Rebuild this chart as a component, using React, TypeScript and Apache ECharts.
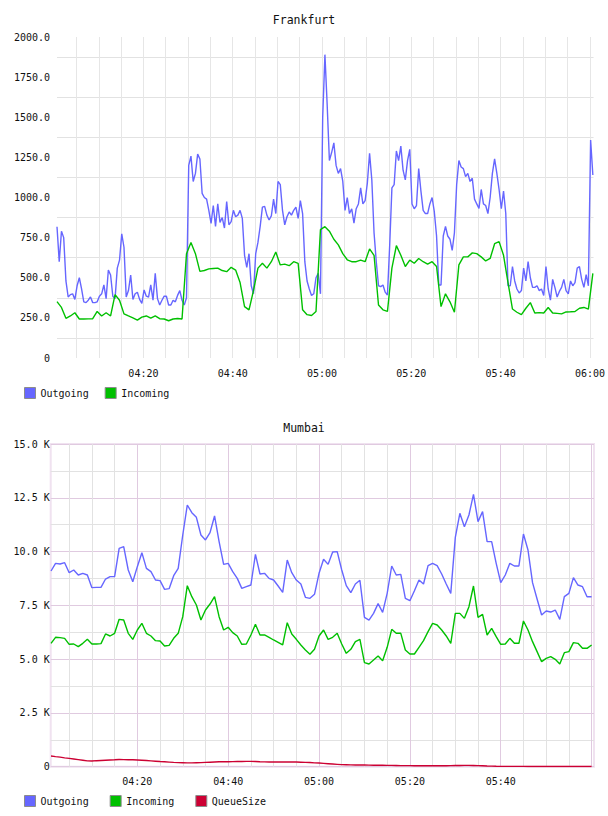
import React, { useEffect, useRef } from "react";
import * as echarts from "echarts";

// Frankfurt: minutes after 04:00 for the first sample, outgoing every 30 s, incoming every minute
const FRA_START = 0.65;
const FRA_OUT_STEP = 0.5;
const FRA_IN_STEP = 1;

const FRA_OUTGOING = [
  818, 600, 790, 750, 480, 380, 395, 400, 365, 450,
  500, 430, 350, 345, 360, 380, 345, 345, 350, 385,
  400, 455, 370, 548, 517, 385, 370, 560, 610, 773,
  690, 380, 420, 517, 365, 400, 410, 365, 340, 424,
  385, 380, 455, 360, 527, 370, 330, 360, 385, 385,
  330, 330, 360, 350, 390, 420, 360, 330, 375, 1200,
  1258, 1100, 1150, 1270, 1240, 1026, 1000, 990, 920, 839,
  950, 820, 960, 845, 875, 810, 975, 830, 850, 920,
  880, 890, 920, 870, 640, 565, 650, 450, 400, 650,
  720, 820, 940, 945, 890, 860, 885, 990, 900, 1100,
  1080, 920, 830, 880, 910, 890, 920, 940, 870, 980,
  900, 600, 480, 430, 390, 400, 500, 527, 400, 1500,
  1890, 1580, 1230, 1280, 1340, 1200, 1150, 1180, 1100, 920,
  1000, 900, 930, 840, 930, 960, 1060, 960, 980, 1090,
  1275, 1110, 780, 600, 450, 445, 455, 410, 392, 700,
  1060, 1080, 1290, 1230, 1320, 1170, 1110, 1230, 1300, 960,
  930, 950, 1180, 1040, 920, 900, 900, 960, 1000, 910,
  760, 455, 455, 760, 820, 760, 740, 670, 780, 1080,
  1230, 1190, 1180, 1130, 1150, 1100, 1120, 990, 960, 932,
  1050, 960, 950, 900, 1000, 1150, 1240, 1150, 1050, 930,
  1040, 900, 450, 450, 570, 480, 430, 405, 420, 560,
  480, 600, 500, 440, 440, 450, 420, 430, 390, 570,
  430, 360, 490, 440, 380, 415, 440, 490, 420, 400,
  480, 450, 470, 560, 570, 490, 440, 520, 450, 1358,
  1140,
];

const FRA_INCOMING = [
  351, 315, 247, 262, 282, 243, 243, 244, 245, 290,
  262, 282, 262, 395, 360, 275, 262, 250, 236, 255,
  262, 248, 262, 245, 243, 232, 243, 246, 243, 650,
  720, 650, 540, 545, 555, 558, 560, 545, 538, 565,
  548, 470, 320, 300, 420, 560, 590, 560, 600, 660,
  580, 585, 575, 600, 590, 300, 270, 265, 290, 800,
  818, 790, 740, 705, 650, 612, 600, 600, 610, 600,
  680, 640, 330, 300, 290, 560, 700, 640, 570, 610,
  590, 620, 600, 585, 600, 570, 320, 400, 350, 285,
  580, 630, 630, 655, 650, 630, 605, 620, 712, 725,
  640, 470, 305, 285, 270, 310, 345, 280, 283, 280,
  315, 280, 278, 275, 287, 288, 290, 310, 315, 305,
  527,
];

// Mumbai: one sample per minute starting at 04:01
const MUM_START = 1;
const MUM_STEP = 1;

const MUM_OUTGOING = [
  9097, 9453, 9422, 9484, 9019, 9143, 8910, 8988, 8910, 8322,
  8337, 8337, 8724, 8833, 8833, 10150, 10228, 9143, 8600, 9298,
  9949, 9220, 9066, 8678, 8647, 8244, 8275, 8880, 9220, 10770,
  12165, 11809, 11592, 10770, 10538, 10879, 11654, 10460, 9406, 9453,
  9066, 8755, 8290, 8368, 8445, 9872, 8957, 8988, 8755, 8678,
  8399, 8105, 9608, 9019, 8678, 8492, 7872, 7826, 8012, 8988,
  9639, 9406, 9980, 9996, 9143, 8415, 8089, 8492, 8663, 6942,
  6818, 7128, 7578, 7175, 8058, 9329, 8910, 8942, 7826, 7717,
  8182, 8678, 8492, 9345, 9453, 9345, 8957, 8492, 8058, 10662,
  11778, 11158, 11700, 12661, 11390, 11855, 10460, 10460, 9453, 8554,
  8910, 9453, 9329, 9329, 10817, 10073, 8554, 7795, 7050, 7237,
  7190, 7283, 6849, 7903, 8058, 8787, 8445, 8368, 7903, 7903,
];

const MUM_INCOMING = [
  5735, 6014, 5998, 5967, 5689, 5704, 5580, 5735, 5921, 5704,
  5704, 5720, 6169, 6076, 6200, 6850, 6820, 6200, 5921, 6355,
  6665, 6200, 6076, 5859, 5843, 5611, 5642, 5967, 6200, 6973,
  8415, 7903, 7515, 6818, 7283, 7562, 7903, 6973, 6355, 6479,
  6231, 6076, 5689, 5704, 6122, 6619, 6122, 6122, 6014, 5890,
  5782, 5658, 6696, 6169, 5921, 5658, 5425, 5224, 5456, 6076,
  6355, 5921, 6014, 6200, 5704, 5270, 5456, 5813, 5921, 4836,
  4774, 4960, 5146, 4929, 5549, 6386, 6200, 6200, 5425, 5239,
  5239, 5549, 5859, 6277, 6665, 6588, 6355, 6076, 5735, 7128,
  7128, 6895, 7438, 8399, 6942, 7082, 6122, 6432, 6045, 5689,
  5704, 5967, 5735, 5735, 6773, 6355, 5813, 5348, 4882, 5037,
  5115, 4991, 4774, 5301, 5348, 5766, 5735, 5503, 5503, 5658,
];

const MUM_QUEUE = [
  496, 470, 445, 410, 385, 360, 330, 300, 270, 265,
  280, 290, 300, 310, 320, 335, 330, 325, 320, 310,
  300, 285, 270, 255, 240, 230, 215, 200, 190, 185,
  180, 180, 185, 190, 200, 210, 220, 230, 230, 232,
  235, 240, 245, 248, 248, 240, 232, 225, 220, 217,
  215, 215, 218, 220, 215, 210, 202, 195, 180, 170,
  155, 140, 125, 110, 95, 90, 85, 82, 80, 78,
  75, 70, 66, 64, 62, 60, 56, 52, 50, 48,
  47, 47, 46, 46, 45, 45, 46, 47, 50, 55,
  58, 62, 62, 58, 52, 42, 32, 25, 20, 16,
  15, 14, 14, 13, 13, 12, 12, 11, 11, 10,
  10, 10, 9, 9, 9, 8, 8, 8, 8, 8,
];

// Axis ticks (minutes after 04:00)
const MINOR_TICKS = [5, 10, 15, 20, 25, 30, 35, 40, 45, 50, 55, 60, 65, 70, 75, 80, 85, 90, 95, 100, 105, 110, 115, 120];
const FRA_TIME_LABELS = [20, 40, 60, 80, 100, 120];
const MUM_TIME_LABELS = [20, 40, 60, 80, 100];

const SERIES_NAMES = ["Outgoing", "Incoming", "QueueSize"];
const COLORS = ["#6666ff", "#00c000", "#cc0033"];

const MONO = "DejaVu Sans Mono";

const toPairs = (values: number[], start: number, step: number) =>
  values.map((v, i) => [start + i * step, v]);

const clock = (m: number) => {
  const total = 4 * 60 + Math.round(m);
  const h = Math.floor(total / 60);
  const mm = total % 60;
  return `${String(h).padStart(2, "0")}:${String(mm).padStart(2, "0")}`;
};

export default function App() {
  const ref = useRef<HTMLDivElement>(null);

  useEffect(() => {
    if (!ref.current) return;
    const chart = echarts.init(ref.current, null, { renderer: "svg" });

    const labelStyle = { fontFamily: MONO, fontSize: 10, color: "#111" };
    const lineSeries = (name: string, color: string, data: number[][], idx: number) => ({
      name,
      type: "line",
      xAxisIndex: idx,
      yAxisIndex: idx,
      data,
      showSymbol: false,
      symbol: "none",
      lineStyle: { width: 1.4, color },
      itemStyle: { color },
    });

    const legendBase = {
      icon: "rect",
      itemWidth: 11,
      itemHeight: 11,
      padding: 0,
      itemStyle: { borderColor: "#8c8c8c", borderWidth: 1 },
      textStyle: { fontFamily: MONO, fontSize: 10, color: "#111" },
    };

    const minorGrey = "#e2e2e2";
    const majorPink = "#e0cae0";

    chart.setOption({
      animation: false,
      backgroundColor: "#ffffff",
      title: [
        {
          text: "Frankfurt",
          left: "center",
          top: 14,
          padding: 0,
          textStyle: { fontFamily: MONO, fontSize: 11.5, fontWeight: "normal", color: "#111" },
        },
        {
          text: "Mumbai",
          left: "center",
          top: 422,
          padding: 0,
          textStyle: { fontFamily: MONO, fontSize: 11.5, fontWeight: "normal", color: "#111" },
        },
      ],
      legend: [
        { ...legendBase, data: SERIES_NAMES.slice(0, 2), left: 24, top: 387, itemGap: 16 },
        { ...legendBase, data: SERIES_NAMES, left: 24, top: 795, itemGap: 21 },
      ],
      grid: [
        { left: 57, right: 14, top: 37, height: 321, show: false },
        {
          left: 50.7,
          right: 14,
          top: 444,
          height: 322.7,
          show: true,
          borderColor: "#f0e2f0",
          borderWidth: 2,
          backgroundColor: "transparent",
        },
      ],
      xAxis: [
        {
          type: "value",
          gridIndex: 0,
          min: 0.65,
          max: 120.8,
          axisLine: { show: false },
          axisTick: { show: false, customValues: MINOR_TICKS },
          axisLabel: {
            ...labelStyle,
            margin: 10,
            customValues: FRA_TIME_LABELS,
            formatter: (v: number) => clock(v),
          },
          splitLine: { show: true, lineStyle: { color: "#e6e6e6", width: 1 } },
        },
        {
          type: "value",
          gridIndex: 1,
          min: 0.93,
          max: 120.53,
          axisLine: { show: false },
          axisTick: { show: false, customValues: MINOR_TICKS },
          axisLabel: {
            ...labelStyle,
            margin: 10,
            customValues: MUM_TIME_LABELS,
            formatter: (v: number) => clock(v),
          },
          splitLine: {
            show: true,
            lineStyle: { color: [minorGrey, minorGrey, minorGrey, majorPink], width: 1 },
          },
        },
      ],
      yAxis: [
        {
          type: "value",
          gridIndex: 0,
          min: 0,
          max: 2000,
          interval: 125,
          axisLine: { show: false },
          axisTick: { show: false },
          axisLabel: {
            ...labelStyle,
            margin: 7,
            formatter: (v: number) => (v % 250 === 0 ? (v === 0 ? "0" : v.toFixed(1)) : ""),
          },
          splitLine: { show: true, lineStyle: { color: ["rgba(0,0,0,0)", "#e2e2e2"], width: 1 } },
        },
        {
          type: "value",
          gridIndex: 1,
          min: 0,
          max: 15000,
          interval: 1250,
          axisLine: { show: false },
          axisTick: { show: false },
          axisLabel: {
            ...labelStyle,
            margin: 1,
            formatter: (v: number) =>
              v % 2500 === 0 ? (v === 0 ? "0" : (v / 1000).toFixed(1) + " K") : "",
          },
          splitLine: { show: true, lineStyle: { color: [majorPink, minorGrey], width: 1 } },
        },
      ],
      series: [
        lineSeries(SERIES_NAMES[0], COLORS[0], toPairs(FRA_OUTGOING, FRA_START, FRA_OUT_STEP), 0),
        lineSeries(SERIES_NAMES[1], COLORS[1], toPairs(FRA_INCOMING, FRA_START, FRA_IN_STEP), 0),
        lineSeries(SERIES_NAMES[0], COLORS[0], toPairs(MUM_OUTGOING, MUM_START, MUM_STEP), 1),
        lineSeries(SERIES_NAMES[1], COLORS[1], toPairs(MUM_INCOMING, MUM_START, MUM_STEP), 1),
        lineSeries(SERIES_NAMES[2], COLORS[2], toPairs(MUM_QUEUE, MUM_START, MUM_STEP), 1),
      ],
    });

    return () => chart.dispose();
  }, []);

  return (
    <div
      ref={ref}
      style={{ position: "fixed", left: 0, top: 0, width: 608, height: 816, background: "#fff" }}
    />
  );
}
